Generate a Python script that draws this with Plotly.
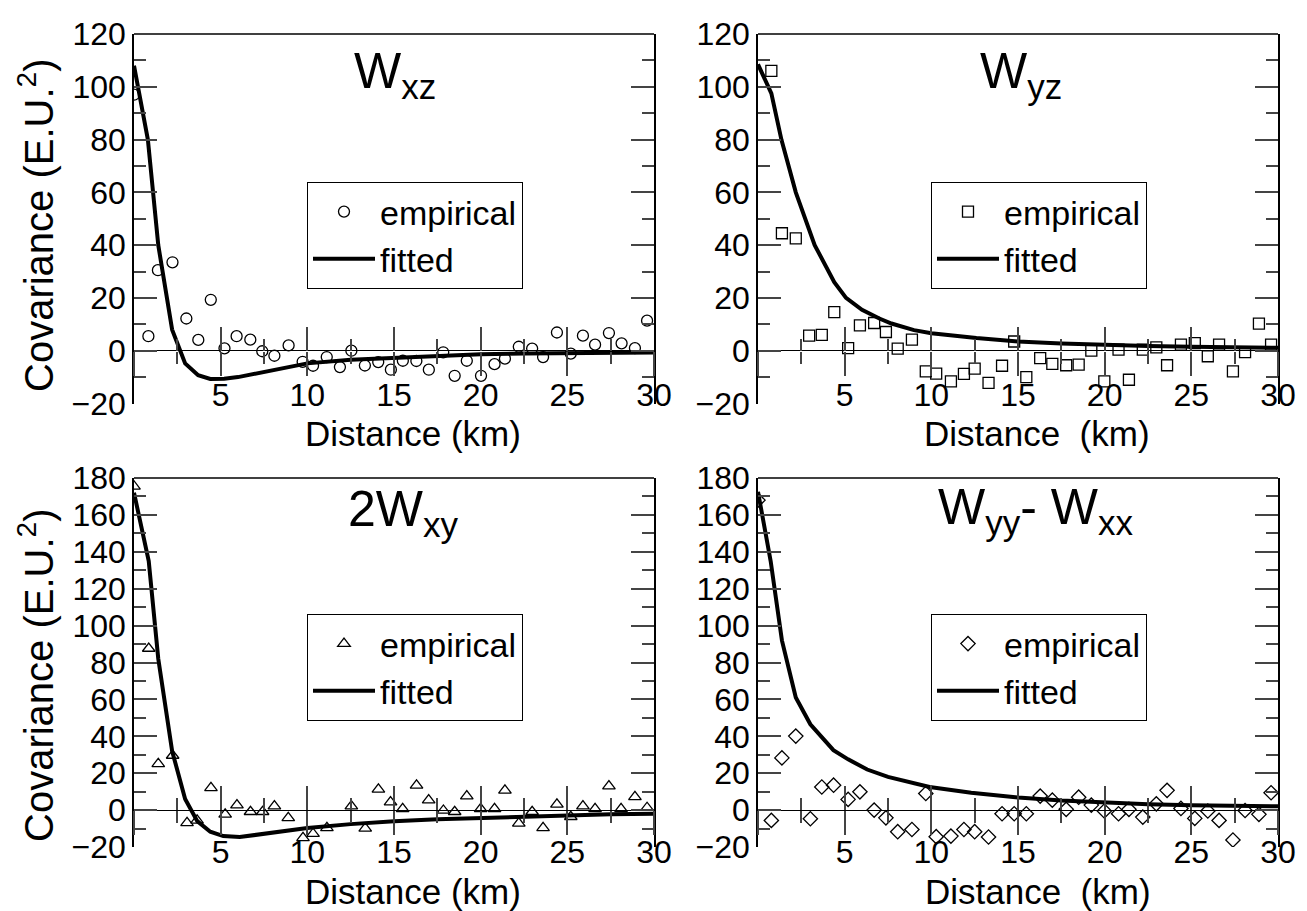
import plotly.graph_objects as go

FONT = "Liberation Sans, Arial, Helvetica, sans-serif"
W, H = 1307, 911

# ---------------- data ----------------
# W_xz (top-left)
wxz_emp_x = [0, 0.83, 1.38, 2.22, 3.02, 3.71, 4.43, 5.22, 5.92, 6.71, 7.4, 8.1, 8.92, 9.73, 10.33, 11.12, 11.88, 12.54,
             13.32, 14.09, 14.82, 15.51, 16.29, 17.01, 17.84, 18.5, 19.2, 20.02, 20.8, 21.4, 22.2, 22.97, 23.6, 24.4,
             25.2, 25.9, 26.6, 27.4, 28.13, 28.9, 29.6]
wxz_emp_y = [97, 5.5, 30.5, 33.5, 12.2, 4.1, 19.3, 0.9, 5.5, 4.2, -0.2, -1.9, 2.0, -4.2, -5.7, -2.4, -6.2, 0.0,
             -5.6, -4.3, -7.2, -3.8, -3.9, -7.2, -0.6, -9.5, -3.8, -9.5, -5.1, -3.0, 1.5, 0.8, -2.4, 6.9,
             -1.1, 5.7, 2.3, 6.7, 2.8, 1.0, 11.4]
wxz_fit_x = [0, 0.8, 1.4, 2.2, 2.95, 3.7, 4.4, 5.2, 6.0, 7.0, 7.5, 8.0, 9.0, 10.0, 12.5, 15.0, 17.5, 20.0, 22.5, 25.0,
             27.5, 30.0]
wxz_fit_y = [108, 80, 40, 8, -4.8, -9.3, -10.7, -10.6, -10.0, -8.7, -8.1, -7.4, -6.0, -4.8, -3.4, -2.7, -1.8, -1.3,
             -1.1, -0.9, -0.8, -0.7]

# W_yz (top-right)
wyz_emp_x = [0.77, 1.38, 2.18, 2.95, 3.68, 4.4, 5.2, 5.88, 6.7, 7.38, 8.06, 8.88, 9.68, 10.28, 11.13, 11.88, 12.5,
             13.3, 14.08, 14.78, 15.48, 16.28, 16.98, 17.78, 18.5, 19.23, 19.98, 20.8, 21.4, 22.2, 22.98, 23.6,
             24.4, 25.2, 25.95, 26.6, 27.4, 28.1, 28.9, 29.6]
wyz_emp_y = [106, 44.5, 42.6, 5.7, 6.0, 14.6, 1.0, 9.6, 10.5, 7.1, 0.8, 4.2, -7.8, -8.7, -11.6, -8.8, -6.8,
             -12.2, -5.7, 3.5, -10.0, -2.8, -5.0, -5.5, -5.3, 0.0, -11.6, 0.4, -11.0, 0.4, 1.3, -5.5,
             2.3, 2.9, -2.1, 2.3, -7.8, -0.5, 10.3, 2.3]
wyz_fit_x = [0, 0.77, 1.35, 2.18, 3.27, 4.4, 5.08, 6.0, 7.0, 7.7, 9.0, 10.0, 12.6, 15.0, 17.5, 20.0, 22.5, 25.0, 27.5,
             30.0]
wyz_fit_y = [108.5, 97.5, 80, 60, 40, 26, 20, 15.5, 12.2, 10.3, 7.8, 6.6, 4.8, 3.5, 2.7, 2.1, 1.8, 1.5, 1.3, 1.1]

# 2W_xy (bottom-left)
wxy_emp_x = [0, 0.85, 1.4, 2.23, 3.06, 3.64, 4.44, 5.26, 5.94, 6.72, 7.42, 8.1, 8.9, 9.75, 10.33, 11.13, 12.54,
             13.34, 14.1, 14.8, 15.5, 16.3, 17.0, 17.85, 18.5, 19.2, 20.0, 20.8, 21.4, 22.2, 22.97, 23.6, 24.4,
             25.2, 25.9, 26.6, 27.4, 28.1, 28.9, 29.6]
wxy_emp_y = [175.5, 87.6, 25.1, 29.6, -6.9, -5.6, 12.1, -2.3, 2.7, -0.9, -0.9, 2.2, -4.2, -15.0, -12.8, -9.6, 2.2,
             -9.9, 11.2, 4.3, 0.7, 13.4, 5.4, -0.2, -0.9, 7.6, 0.7, 0.7, 10.7, -7.2, -0.9, -9.6, 3.1,
             -3.6, 2.2, 0.7, 13.0, 0.7, 7.2, 1.3]
wxy_fit_x = [0, 0.85, 1.4, 2.2, 2.95, 3.65, 4.4, 5.15, 6.1, 7.3, 10.0, 12.5, 15.0, 17.5, 20.0, 22.5, 25.0, 27.5, 30.0]
wxy_fit_y = [172, 135, 82, 32, 6, -6, -11.7, -14.1, -14.6, -13.2, -9.7, -7.6, -6.0, -5.0, -4.2, -3.4, -2.7, -2.3, -2.0]

# W_yy - W_xx (bottom-right)
wyx_emp_x = [0, 0.77, 1.38, 2.18, 3.02, 3.68, 4.36, 5.2, 5.88, 6.7, 7.38, 8.06, 8.88, 9.68, 10.28, 11.13, 11.88,
             12.5, 13.3, 14.08, 14.78, 15.48, 16.28, 16.98, 17.78, 18.5, 19.23, 19.98, 20.8, 21.4, 22.2, 22.98,
             23.6, 24.4, 25.2, 25.95, 26.6, 27.4, 28.1, 28.9, 29.6]
wyx_emp_y = [168, -5.6, 28.3, 40.1, -4.7, 12.5, 13.5, 5.8, 9.9, 0.0, -4.2, -11.7, -10.5, 9.0, -14.4, -14.1, -10.5,
             -11.7, -14.6, -2.0, -2.0, -2.0, 7.6, 5.4, 0.4, 7.0, 2.7, -0.5, -2.0, 0.4, -3.8, 3.4,
             10.7, 0.9, -4.5, -0.5, -5.6, -16.2, -0.2, -2.3, 9.4]
wyx_fit_x = [0, 0.73, 1.38, 2.18, 3.02, 4.35, 5.2, 6.3, 7.5, 9.9, 12.3, 15.0, 17.5, 20.0, 22.5, 25.0, 27.5, 30.0]
wyx_fit_y = [172.5, 135, 92, 61, 46.5, 32.5, 27.5, 22, 18, 12.5, 9.4, 6.8, 5.2, 4.1, 3.2, 2.6, 2.3, 2.1]

x_tick_vals = [5, 10, 15, 20, 25, 30]
x_tick_text = ["5", "10", "15", "20", "25", "30"]

panels = [
    dict(ex=wxz_emp_x, ey=wxz_emp_y, fx=wxz_fit_x, fy=wxz_fit_y, sym="circle-open",
         title="W<sub>xz</sub>", yr=[-20, 120], xl="Distance (km)"),
    dict(ex=wyz_emp_x, ey=wyz_emp_y, fx=wyz_fit_x, fy=wyz_fit_y, sym="square-open",
         title="W<sub>yz</sub>", yr=[-20, 120], xl="Distance\u00a0 (km)"),
    dict(ex=wxy_emp_x, ey=wxy_emp_y, fx=wxy_fit_x, fy=wxy_fit_y, sym="triangle-up-open",
         title="2W<sub>xy</sub>", yr=[-20, 180], xl="Distance (km)"),
    dict(ex=wyx_emp_x, ey=wyx_emp_y, fx=wyx_fit_x, fy=wyx_fit_y, sym="diamond-open",
         title="W<sub>yy</sub>- W<sub>xx</sub>", yr=[-20, 180], xl="Distance\u00a0 (km)"),
]

# ---------------- layout geometry (pixels) ----------------
px_x = [(126, 646), (750, 1270), (126, 646), (750, 1270)]
px_y = [(26, 395.5), (26, 395.5), (470, 839), (470, 839)]
label_px = [365, 365, 822, 822]
legend_px = [(299, 174), (923, 174), (299, 606), (923, 606)]
title_px = [(387, 66), (1013, 66), (395, 504), (1027, 502)]
xtitle_px = [(405, 425), (1029, 425), (405, 883), (1030, 883)]
ytitle_px = [(28, 218), None, (28, 668), None]


def py(p):
    return 1 - p / H


fig = go.Figure()
layout = dict(
    width=W, height=H, margin=dict(l=0, r=0, t=0, b=0, autoexpand=False),
    paper_bgcolor="white", plot_bgcolor="white",
    font=dict(family=FONT, color="black", size=32),
    showlegend=True,
)
annotations = []
shapes = []
TICKC = "#444"

for i, p in enumerate(panels):
    n = i + 1
    xs = "x" if n == 1 else f"x{n}"
    ys = "y" if n == 1 else f"y{n}"
    xkey = "xaxis" if n == 1 else f"xaxis{n}"
    ykey = "yaxis" if n == 1 else f"yaxis{n}"
    lg = "legend" if n == 1 else f"legend{n}"
    xd = [px_x[i][0] / W, px_x[i][1] / W]
    yd = [py(px_y[i][1]), py(px_y[i][0])]
    y0, y1 = p["yr"]
    zero_pos = yd[0] + (yd[1] - yd[0]) * (0 - y0) / (y1 - y0)

    fig.add_trace(go.Scatter(x=p["ex"], y=p["ey"], mode="markers", name="empirical",
                             marker=dict(symbol=p["sym"], size=11, color="black", line=dict(width=1.3)),
                             xaxis=xs, yaxis=ys, legend=lg))
    fig.add_trace(go.Scatter(x=p["fx"], y=p["fy"], mode="lines", name="fitted",
                             line=dict(color="black", width=4),
                             xaxis=xs, yaxis=ys, legend=lg))

    layout[xkey] = dict(domain=xd, range=[0, 30], anchor="free", position=py(label_px[i]),
                        automargin=False,
                        tickmode="array", tickvals=x_tick_vals, ticktext=x_tick_text,
                        ticks="", showline=False, showgrid=False, zeroline=False,
                        tickfont=dict(size=32, family=FONT, color="black"))
    layout[ykey] = dict(domain=yd, range=[y0, y1], anchor=xs, automargin=False,
                        showline=True, linecolor="black", linewidth=1.5, mirror="ticks",
                        ticks="inside", ticklen=23, tickwidth=1.5, tickcolor=TICKC,
                        dtick=20, tick0=0, showgrid=False,
                        minor=dict(ticks="inside", ticklen=12, tickwidth=1.5, tickcolor=TICKC, dtick=10),
                        zeroline=True, zerolinecolor="black", zerolinewidth=1,
                        tickfont=dict(size=32, family=FONT, color="black"))
    # crossing ticks at the zero level: one axis with outside ticks, one with inside ticks
    for k, side in ((4, "outside"), (8, "inside")):
        m = n + k
        layout[f"xaxis{m}"] = dict(domain=xd, range=[0, 30], overlaying=xs, anchor="free", position=zero_pos,
                                   automargin=False,
                                   ticks=side, ticklen=24, tickwidth=1.5, tickcolor=TICKC,
                                   dtick=5, tick0=0, showticklabels=False, showline=False,
                                   showgrid=False, zeroline=False,
                                   minor=dict(ticks=side, ticklen=12, tickwidth=1.5, tickcolor=TICKC,
                                              dtick=2.5, tick0=0))
        fig.add_trace(go.Scatter(x=[None], y=[None], mode="lines", xaxis=f"x{m}", yaxis=ys,
                                 showlegend=False, hoverinfo="skip"))

    # top frame line
    shapes.append(dict(type="line", xref=f"{xs} domain", yref=f"{ys} domain", x0=0, x1=1, y0=1, y1=1,
                       line=dict(color="black", width=1.5)))

    layout[lg] = dict(x=legend_px[i][0] / W, y=py(legend_px[i][1]), xanchor="left", yanchor="top",
                      bordercolor="black", borderwidth=1, bgcolor="white",
                      font=dict(size=34, family=FONT, color="black"), itemwidth=62, tracegroupgap=0)

    annotations.append(dict(text=p["title"], x=title_px[i][0] / W, y=py(title_px[i][1]),
                            xref="paper", yref="paper", xanchor="center", yanchor="middle",
                            showarrow=False, font=dict(size=50, family=FONT, color="black")))
    annotations.append(dict(text=p["xl"], x=xtitle_px[i][0] / W, y=py(xtitle_px[i][1]),
                            xref="paper", yref="paper", xanchor="center", yanchor="middle",
                            showarrow=False, font=dict(size=35, family=FONT, color="black")))
    if ytitle_px[i] is not None:
        annotations.append(dict(text="Covariance (E.U.<sup>2</sup>)", x=ytitle_px[i][0] / W,
                                y=py(ytitle_px[i][1]), xref="paper", yref="paper",
                                xanchor="center", yanchor="middle", textangle=-90,
                                showarrow=False, font=dict(size=40, family=FONT, color="black")))

layout["annotations"] = annotations
layout["shapes"] = shapes
fig.update_layout(**layout)
fig.write_html("out.html")
